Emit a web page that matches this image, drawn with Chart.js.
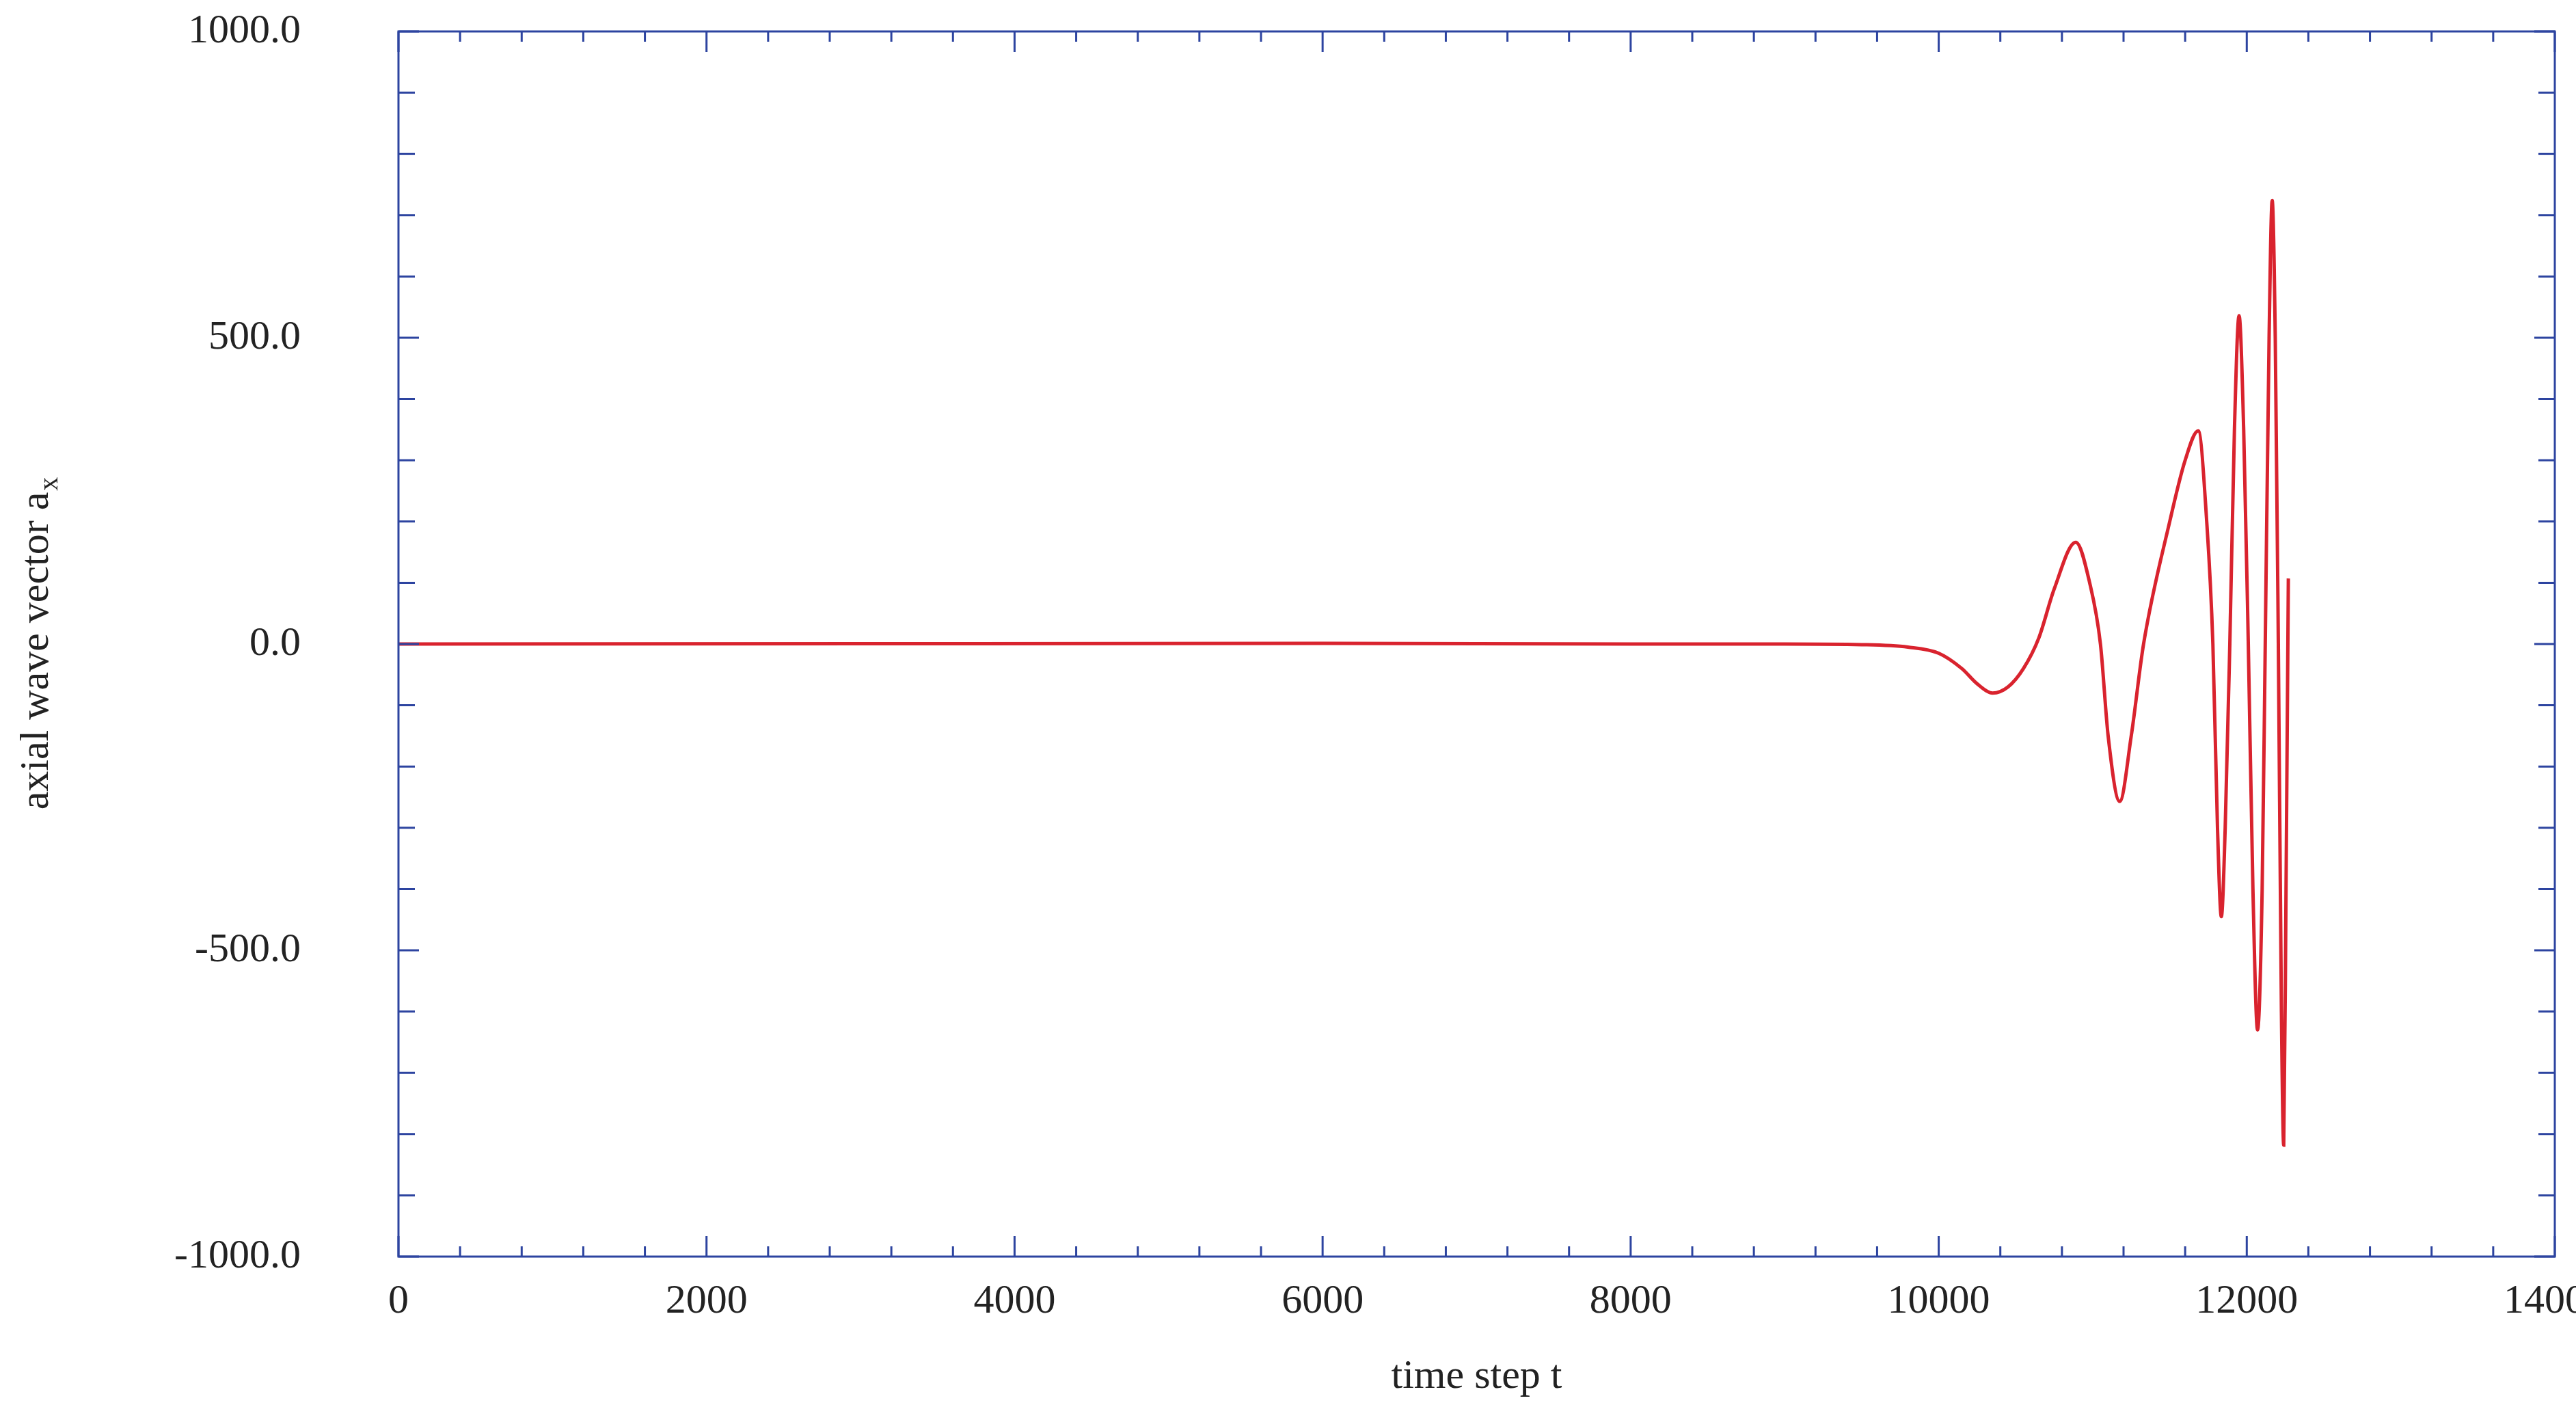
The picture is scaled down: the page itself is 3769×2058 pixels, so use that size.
<!DOCTYPE html>
<html>
<head>
<meta charset="utf-8">
<script src="https://cdn.jsdelivr.net/npm/chart.js@4"></script>
<style>
  html, body { margin: 0; padding: 0; background: #fff; }
</style>
</head>
<body>
<canvas id="grafico" width="3769" height="2058"></canvas>
<script>
// time steps and axial wave vector values
const tempos = [0, 3000, 6000, 8000, 9000, 9500, 9800, 10000, 10150, 10250, 10350, 10450, 10550, 10650, 10750,
  10890, 10980, 11050, 11100, 11175, 11250, 11330, 11500, 11600, 11685, 11740, 11780, 11810, 11835, 11860,
  11890, 11920, 11950, 11980, 12010, 12040, 12070, 12100, 12120, 12145, 12165, 12185, 12205, 12225, 12240,
  12255, 12270];
const valores = [0, 0.5, 1, 0, 0, -1, -5, -15, -40, -65, -80, -70, -40, 10, 90,
  166, 100, 0, -150, -257, -150, 0, 200, 300, 348, 200, 0, -300, -445, -300,
  0, 350, 536, 350, 0, -400, -630, -400, 0, 500, 724, 500, 0, -600, -818,
  -400, 107];
const xTicks = [0, 2000, 4000, 6000, 8000, 10000, 12000, 14000];
const yTicks = [-1000, -500, 0, 500, 1000];

const corEixo = '#2d44a0';
const fonte = '"Liberation Serif", "DejaVu Serif", serif';

const molduraPlugin = {
  id: 'moldura',
  afterDraw(chart) {
    const { ctx, chartArea: a, scales: { x, y } } = chart;
    ctx.save();
    ctx.strokeStyle = corEixo;
    ctx.lineWidth = 3;
    ctx.strokeRect(a.left, a.top, a.right - a.left, a.bottom - a.top);
    ctx.beginPath();
    for (let t = 0; t <= 14000; t += 400) {
      const px = x.getPixelForValue(t);
      const len = t % 2000 === 0 ? 30 : 15;
      ctx.moveTo(px, a.bottom); ctx.lineTo(px, a.bottom - len);
      ctx.moveTo(px, a.top); ctx.lineTo(px, a.top + len);
    }
    for (let v = -1000; v <= 1000; v += 100) {
      const py = y.getPixelForValue(v);
      const len = v % 500 === 0 ? 30 : 24;
      ctx.moveTo(a.left, py); ctx.lineTo(a.left + len, py);
      ctx.moveTo(a.right, py); ctx.lineTo(a.right - len, py);
    }
    ctx.stroke();

    // tick labels
    ctx.fillStyle = '#222';
    ctx.font = '60px ' + fonte;
    ctx.textAlign = 'center';
    ctx.textBaseline = 'top';
    xTicks.forEach(t => ctx.fillText(String(t), x.getPixelForValue(t), a.bottom + 36));
    ctx.textAlign = 'right';
    ctx.textBaseline = 'middle';
    yTicks.forEach(v => ctx.fillText(v.toFixed(1), 440, y.getPixelForValue(v)));

    // axis titles
    ctx.font = '60px ' + fonte;
    ctx.textAlign = 'center';
    ctx.textBaseline = 'alphabetic';
    ctx.fillText('time step t', (a.left + a.right) / 2, 2030);

    ctx.translate(70, 942);
    ctx.rotate(-Math.PI / 2);
    const principal = 'axial wave vector a';
    ctx.font = '60px ' + fonte;
    const w1 = ctx.measureText(principal).width;
    ctx.font = '40px ' + fonte;
    const w2 = ctx.measureText('x').width;
    const inicio = -(w1 + w2) / 2;
    ctx.textAlign = 'left';
    ctx.font = '60px ' + fonte;
    ctx.fillText(principal, inicio, 0);
    ctx.font = '40px ' + fonte;
    ctx.fillText('x', inicio + w1 + 2, 14);
    ctx.restore();
  }
};

new Chart(document.getElementById('grafico').getContext('2d'), {
  type: 'line',
  data: {
    datasets: [{
      data: tempos.map((t, i) => ({ x: t, y: valores[i] })),
      borderColor: '#d9232e',
      borderWidth: 5,
      pointRadius: 0,
      cubicInterpolationMode: 'monotone',
      fill: false
    }]
  },
  options: {
    responsive: false,
    animation: false,
    devicePixelRatio: 1,
    layout: { padding: { top: 46, right: 31, left: 0, bottom: 0 } },
    plugins: { legend: { display: false }, tooltip: { enabled: false } },
    scales: {
      x: {
        type: 'linear', min: 0, max: 14000,
        afterFit: s => { s.height = 220; },
        grid: { display: false, drawTicks: false },
        border: { display: false },
        ticks: { display: false }
      },
      y: {
        type: 'linear', min: -1000, max: 1000,
        afterFit: s => { s.width = 583; },
        grid: { display: false, drawTicks: false },
        border: { display: false },
        ticks: { display: false }
      }
    }
  },
  plugins: [molduraPlugin]
});
</script>
</body>
</html>
